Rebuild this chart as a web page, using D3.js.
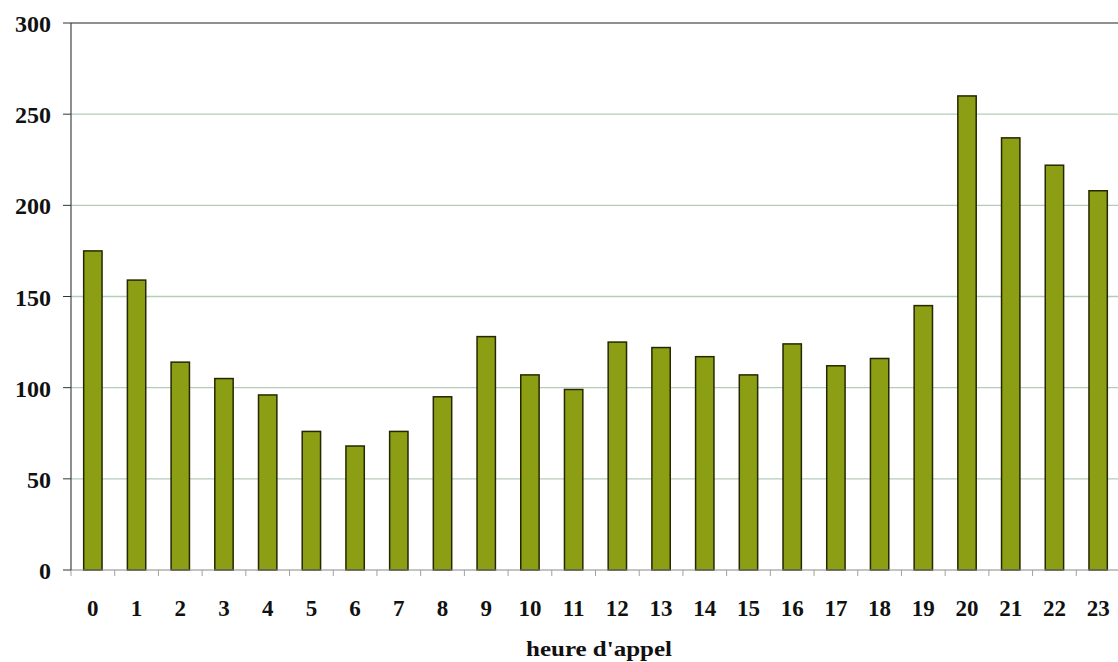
<!DOCTYPE html>
<html><head><meta charset="utf-8">
<script src="https://cdn.jsdelivr.net/npm/d3@7"></script>
<style>body{margin:0;background:#fff}svg{display:block}</style>
</head><body><svg id="c" width="1118" height="662"></svg>
<script>
const hours = ["0","1","2","3","4","5","6","7","8","9","10","11","12","13","14","15","16","17","18","19","20","21","22","23"];
const calls = [175,159,114,105,96,76,68,76,95,128,107,99,125,122,117,107,124,112,116,145,260,237,222,208];
const yTicks = [0,50,100,150,200,250,300];
const xTitle = "heure d'appel";

(function () {
const svg = d3.select("#c");
const mLeft = 71, mRight = 1120, mTop = 23, mBottom = 570;
const x = d3.scaleBand().domain(hours).range([mLeft, mRight]).paddingInner(0.58).paddingOuter(0.29);
const xb = d3.scaleBand().domain(hours).range([mLeft, mRight]);
const y = d3.scaleLinear().domain([0, 300]).range([mBottom, mTop]);
const font = "'Liberation Serif', 'Times New Roman', serif";

// gridlines
svg.append("g").selectAll("line").data(yTicks.filter(d => d > 0 && d < 300)).join("line")
  .attr("x1", mLeft).attr("x2", 1118).attr("y1", d => y(d)).attr("y2", d => y(d))
  .attr("stroke", "#b3cdb8").attr("stroke-width", 1.3);
// top border
svg.append("line").attr("x1", mLeft).attr("x2", 1118).attr("y1", y(300)).attr("y2", y(300))
  .attr("stroke", "#6a6a6a").attr("stroke-width", 1.3);

// bars
svg.append("g").selectAll("rect").data(calls).join("rect")
  .attr("x", (d, i) => x(hours[i]))
  .attr("width", x.bandwidth())
  .attr("y", d => y(d))
  .attr("height", d => y(0) - y(d))
  .attr("fill", "#8c9f14").attr("stroke", "#262600").attr("stroke-width", 1.5);

// x axis
const xAxis = svg.append("g").attr("transform", `translate(0,${mBottom})`);
xAxis.append("line").attr("x1", mLeft).attr("x2", 1118).attr("stroke", "#8a8a8a").attr("stroke-width", 1.2);
xAxis.selectAll("line.t").data(hours).join("line").attr("class", "t")
  .attr("x1", d => xb(d)).attr("x2", d => xb(d)).attr("y1", 0).attr("y2", 6)
  .attr("stroke", "#a0a0a0");
xAxis.selectAll("text").data(hours).join("text")
  .attr("x", d => xb(d) + xb.bandwidth() / 2).attr("y", 46)
  .attr("text-anchor", "middle").attr("font-family", font).attr("font-weight", "bold")
  .attr("font-size", 23).attr("fill", "#111").text(d => d);

// y axis
const yAxis = svg.append("g");
yAxis.append("line").attr("x1", mLeft).attr("x2", mLeft).attr("y1", mTop).attr("y2", mBottom)
  .attr("stroke", "#444").attr("stroke-width", 1.2);
yAxis.selectAll("line.t").data(yTicks).join("line").attr("class", "t")
  .attr("x1", mLeft - 8).attr("x2", mLeft).attr("y1", d => y(d)).attr("y2", d => y(d))
  .attr("stroke", "#333");
yAxis.selectAll("text").data(yTicks).join("text")
  .attr("x", 51).attr("y", d => y(d) + 9)
  .attr("text-anchor", "end").attr("font-family", font).attr("font-weight", "bold")
  .attr("font-size", 24).attr("fill", "#111").text(d => d);

// title
svg.append("text").attr("x", 599).attr("y", 656)
  .attr("text-anchor", "middle").attr("font-family", font).attr("font-weight", "bold")
  .attr("font-size", 22).attr("textLength", 146).attr("lengthAdjust", "spacingAndGlyphs")
  .attr("fill", "#111").text(xTitle);
})();
</script></body></html>
